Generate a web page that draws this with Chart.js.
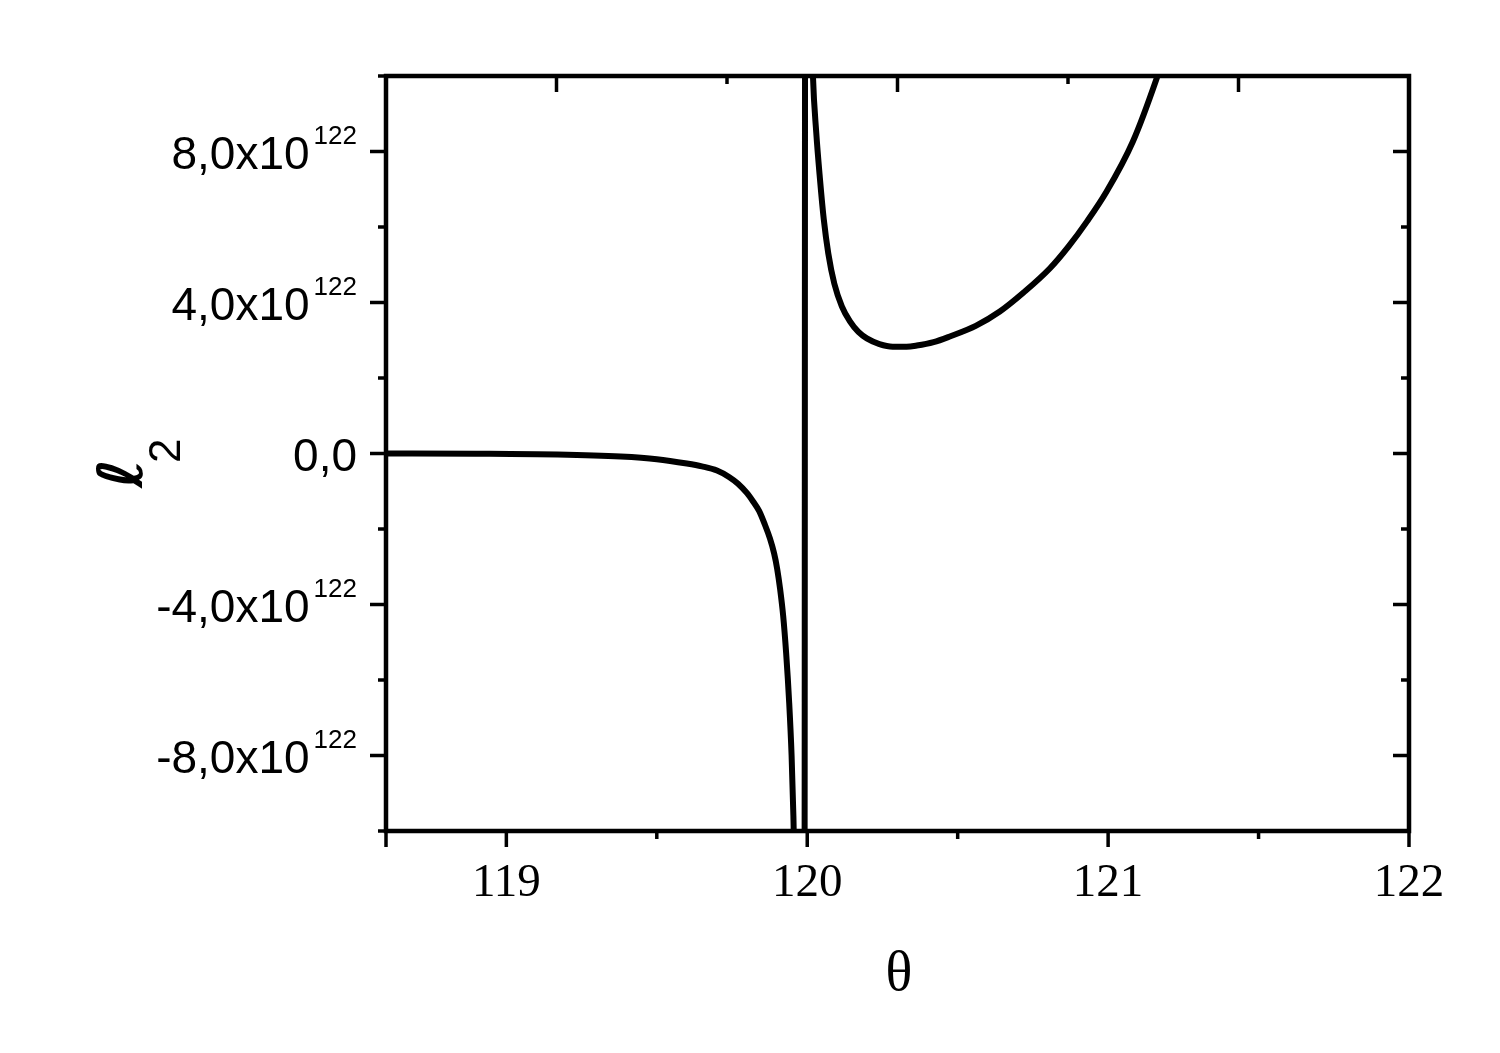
<!DOCTYPE html>
<html>
<head>
<meta charset="utf-8">
<title>l2 vs theta</title>
<script src="https://cdn.jsdelivr.net/npm/chart.js@4.4.1/dist/chart.umd.min.js"></script>
<style>
  html, body { margin: 0; padding: 0; background: #fff; }
  canvas { display: block; }
</style>
</head>
<body>
<canvas id="chart" width="1500" height="1053"></canvas>
<script>
// θ (deg) against ℓ2, in units of 10^122.
// One series: the near-vertical stroke at θ≈120 is the jump across the pole.
const THETA = [
  118.60, 118.90, 119.17, 119.38, 119.50, 119.60, 119.65, 119.70, 119.74,
  119.77, 119.80, 119.82, 119.84, 119.86, 119.876, 119.89, 119.90, 119.91,
  119.92, 119.93, 119.94, 119.948, 119.954, 119.958,
  119.991, 119.993,
  120.016, 120.019, 120.030, 120.042, 120.055, 120.070, 120.090, 120.115,
  120.142, 120.17, 120.198, 120.24, 120.284, 120.33, 120.364, 120.42,
  120.474, 120.56, 120.64, 120.72, 120.806, 120.87, 120.93, 120.995,
  121.082, 121.161, 121.18,
];
const L2 = [
  0.0, -0.005, -0.026, -0.08, -0.15, -0.265, -0.34, -0.45, -0.62,
  -0.80, -1.05, -1.27, -1.52, -1.90, -2.25, -2.65, -3.05, -3.6,
  -4.3, -5.3, -6.6, -8.0, -9.6, -11.0,
  -12.0, 12.0,
  11.0, 10.0, 8.5, 7.3, 6.2, 5.3, 4.5, 3.9,
  3.5, 3.22, 3.05, 2.9, 2.83, 2.83, 2.86, 2.95,
  3.10, 3.38, 3.76, 4.27, 4.90, 5.50, 6.15, 6.94,
  8.26, 9.93, 10.4,
];
const Y_EXP = "122";

const X_TICKS = [118.6, 119, 119.5, 120, 120.5, 121, 121.5, 122];
const X_LABELS = ["", "119", "", "120", "", "121", "", "122"];
const X_LONG = [118.6, 119, 120, 121, 122]; // Origin puts a full tick at the axis start too
const Y_TICKS = [-10, -8, -6, -4, -2, 0, 2, 4, 6, 8, 10];
const Y_LABELED = [-8, -4, 0, 4, 8];
// the top axis in the original is an independent 0..6 axis without labels
const TOP_TICKS = [1, 2, 3, 4, 5];
const TOP_LONG = [1, 3, 5];

const LONG = 16;
const SHORT = 8;

function fixedSize(prop, px) {
  return (scale) => { scale[prop] = px; };
}

function line(ctx, x1, y1, x2, y2) {
  ctx.beginPath();
  ctx.moveTo(x1, y1);
  ctx.lineTo(x2, y2);
  ctx.stroke();
}

const originAxes = {
  id: "originAxes",
  beforeDraw(chart) {
    const { ctx, width, height } = chart;
    ctx.save();
    ctx.fillStyle = "#fff";
    ctx.fillRect(0, 0, width, height);
    ctx.restore();
  },
  afterDraw(chart) {
    const { ctx, chartArea: a, scales } = chart;
    ctx.save();
    ctx.strokeStyle = "#000";
    ctx.fillStyle = "#000";
    ctx.lineWidth = 3.5;

    // bottom: outward ticks + labels
    ctx.font = '47px "Liberation Serif", "Times New Roman", serif';
    ctx.textAlign = "center";
    ctx.textBaseline = "alphabetic";
    X_TICKS.forEach((v, i) => {
      const px = scales.x.getPixelForValue(v);
      line(ctx, px, a.bottom, px, a.bottom + (X_LONG.includes(v) ? LONG : SHORT));
      if (X_LABELS[i]) ctx.fillText(X_LABELS[i], px, 896);
    });

    // top: inward ticks only
    TOP_TICKS.forEach((v) => {
      const px = scales.x2.getPixelForValue(v);
      line(ctx, px, a.top, px, a.top + (TOP_LONG.includes(v) ? LONG : SHORT));
    });

    // left outward, right inward
    Y_TICKS.forEach((v) => {
      const len = v % 4 === 0 ? LONG : SHORT;
      const pl = scales.y.getPixelForValue(v);
      const pr = scales.y2.getPixelForValue(v);
      line(ctx, a.left - len, pl, a.left, pl);
      line(ctx, a.right - len, pr, a.right, pr);
    });

    // left labels "8,0x10^122"
    const labelRight = 357;
    const mainFont = '46px "Liberation Sans", Arial, sans-serif';
    Y_LABELED.forEach((v) => {
      const py = scales.y.getPixelForValue(v);
      ctx.textAlign = "right";
      if (v === 0) {
        ctx.font = mainFont;
        ctx.fillText("0,0", labelRight, py + 17);
        return;
      }
      ctx.font = '26px "Liberation Sans", Arial, sans-serif';
      const supW = ctx.measureText(Y_EXP).width;
      ctx.fillText(Y_EXP, labelRight, py - 8);
      ctx.font = mainFont;
      ctx.fillText(v.toFixed(1).replace(".", ",") + "x10", labelRight - supW - 4, py + 17);
    });

    // frame
    ctx.lineWidth = 4.5;
    ctx.strokeRect(a.left, a.top, a.right - a.left, a.bottom - a.top);

    // axis titles
    ctx.textAlign = "center";
    ctx.font = '56px "Liberation Serif", "Times New Roman", serif';
    ctx.fillText("θ", 899, 990);

    ctx.save();
    ctx.rotate(-Math.PI / 2);
    ctx.textAlign = "left";
    ctx.font = 'oblique bold 62px "DejaVu Sans", sans-serif';
    ctx.fillText("ℓ", -488, 142);
    ctx.font = '44px "Liberation Sans", Arial, sans-serif';
    ctx.fillText("2", -463, 180);
    ctx.restore();

    ctx.restore();
  },
};

const hidden = {
  grid: { display: false, drawTicks: false },
  border: { display: false },
  ticks: { display: false },
};

new Chart(document.getElementById("chart"), {
  type: "line",
  data: {
    datasets: [{
      data: THETA.map((t, i) => ({ x: t, y: L2[i] })),
      borderColor: "#000",
      borderWidth: 6,
      pointRadius: 0,
      cubicInterpolationMode: "monotone",
      fill: false,
      clip: 0,
    }],
  },
  options: {
    responsive: false,
    animation: false,
    events: [],
    layout: { padding: 0 },
    plugins: { legend: { display: false }, tooltip: { enabled: false } },
    scales: {
      x: { type: "linear", position: "bottom", min: 118.6, max: 122, ...hidden, afterFit: fixedSize("height", 222) },
      x2: { type: "linear", position: "top", min: 0, max: 6, ...hidden, afterFit: fixedSize("height", 76) },
      y: { type: "linear", position: "left", min: -10, max: 10, ...hidden, afterFit: fixedSize("width", 386) },
      y2: { type: "linear", position: "right", min: -10, max: 10, ...hidden, afterFit: fixedSize("width", 91) },
    },
  },
  plugins: [originAxes],
});
</script>
</body>
</html>
